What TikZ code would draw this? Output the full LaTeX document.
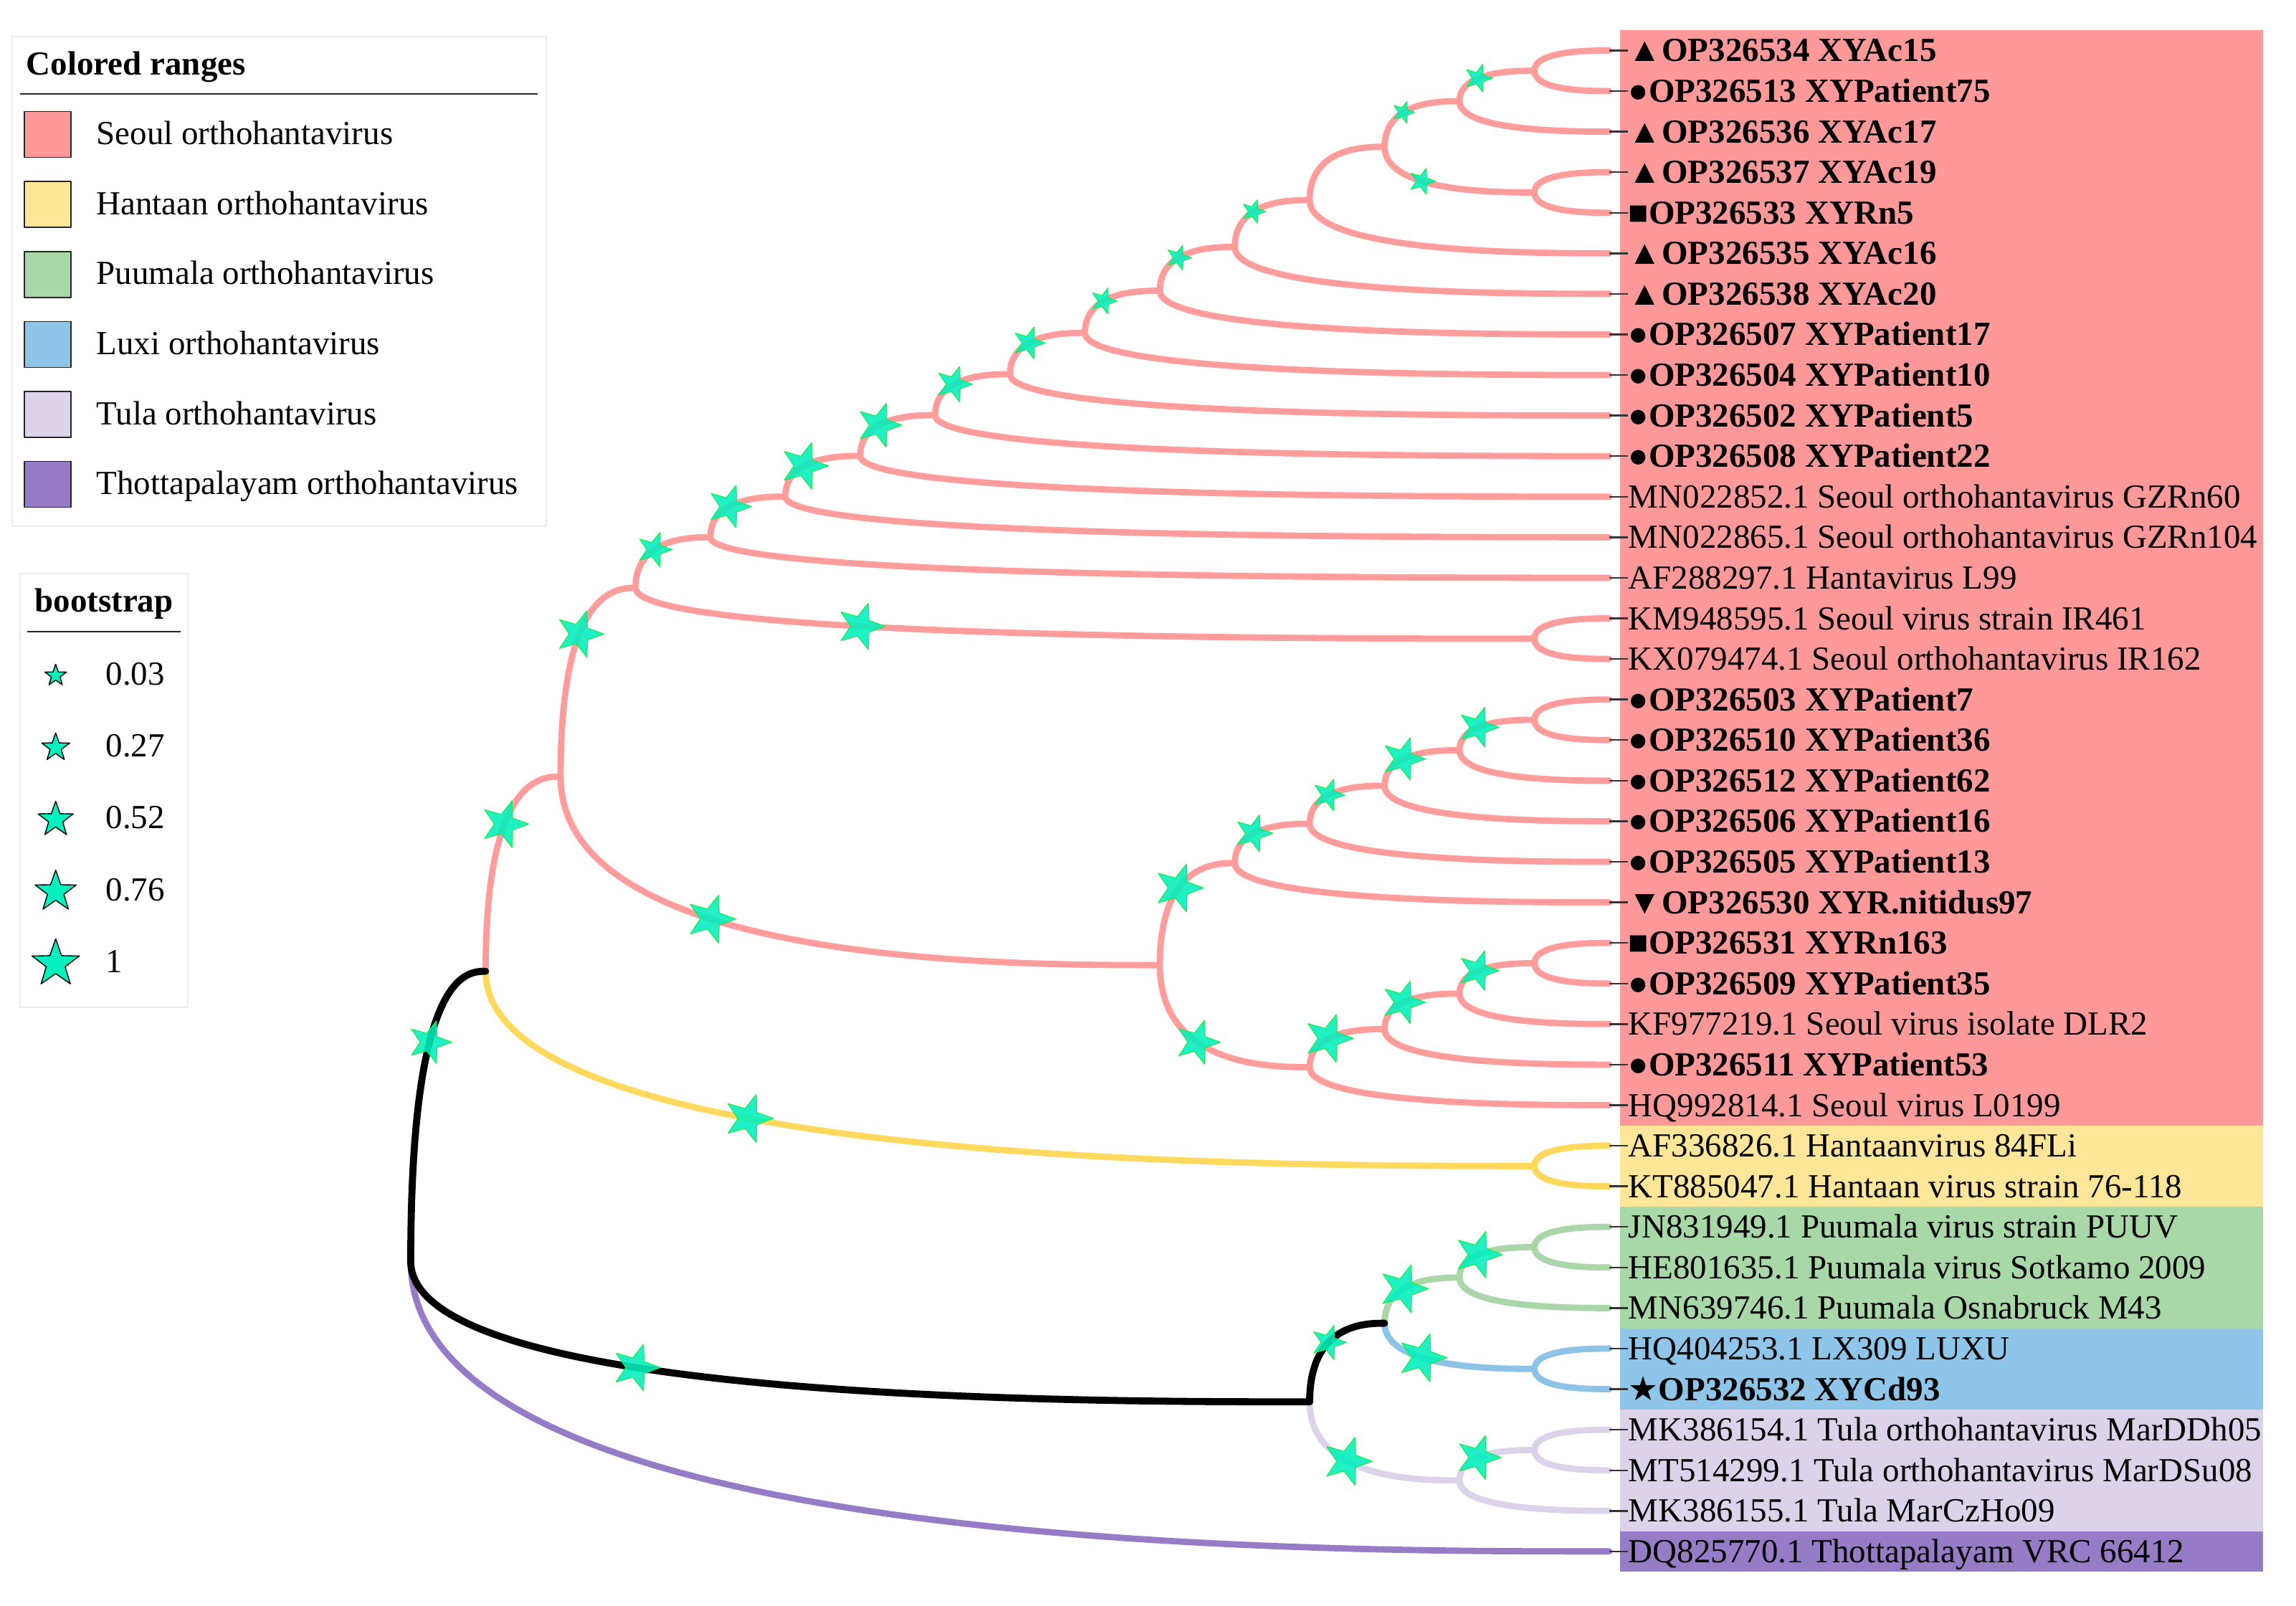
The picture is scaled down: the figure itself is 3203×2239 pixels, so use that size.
\documentclass[tikz,border=0pt]{standalone}
\usepackage{fontspec}
\setmainfont{Liberation Serif}
\newfontfamily\symfont{DejaVu Sans}
\usetikzlibrary{shapes.geometric,calc}
\definecolor{seoulR}{HTML}{FF9999}
\definecolor{hantR}{HTML}{FFE699}
\definecolor{puuR}{HTML}{A9D8A8}
\definecolor{luxR}{HTML}{8EC5E8}
\definecolor{tulaR}{HTML}{DCD3EB}
\definecolor{thoR}{HTML}{967CC6}
\definecolor{seoulB}{HTML}{FF9C9C}
\definecolor{hantB}{HTML}{FFD95E}
\definecolor{puuB}{HTML}{AAD6A9}
\definecolor{luxB}{HTML}{8DC3E6}
\definecolor{tulaB}{HTML}{DCD3EA}
\definecolor{thoB}{HTML}{967CC6}
\definecolor{bsfill}{HTML}{00F0BE}
\definecolor{bsedge}{HTML}{22E855}
\newcommand\mknode[3]{\coordinate (#1) at ({2245-104.5*#2},{70.4+56.58*#3});}
\newcommand\brn[3]{\draw[#1] (#2) .. controls (#2|-#3) and ($(#2|-#3)!0.75!(#3)$) .. (#3);}
\newcommand\bst[3]{\path (#1) .. controls (#1|-#2) and ($(#1|-#2)!0.75!(#2)$) .. (#2) node[bsstar, minimum size={#3*0.5pt}, pos=0.375] (s#1#2) {};}
\newcommand\lab[3]{\node[lab,font=\fontsize{11.75pt}{14pt}\selectfont#3] (lab#1) at (2271,{70.4+56.58*#1}) {#2}; \draw[leader] (t#1) -- (lab#1.west);}
\newcommand\rng[3]{\fill[#1] (2260,{70.4+56.58*#2-28.29}) rectangle (3157,{70.4+56.58*#3+28.29});}
\begin{document}
\begin{tikzpicture}[x=0.25pt,y=-0.25pt, line cap=round, line join=round,
  font=\fontsize{11.75pt}{14pt}\selectfont,
  br/.style={line width=2.2pt},
  seoul/.style={br,draw=seoulB},
  hant/.style={br,draw=hantB},
  puu/.style={br,draw=puuB},
  lux/.style={br,draw=luxB},
  tula/.style={br,draw=tulaB},
  tho/.style={br,draw=thoB},
  blk/.style={line width=2.45pt,draw=black},
  bsstar/.style={star, star points=5, star point ratio=2.4, rotate=-90, inner sep=0pt, fill=bsfill, fill opacity=0.88, draw=bsedge, line width=0.3pt},
  lgstar/.style={star, star points=5, star point ratio=2.5, inner sep=0pt, fill=bsfill, draw=black, line width=0.35pt},
  lab/.style={anchor=west, inner sep=0pt, text height=9.75pt, text depth=2pt},
  leader/.style={draw=black!80, line width=0.6pt, line cap=butt},
  swatch/.style={draw=black!85, line width=0.4pt, inner sep=0pt, minimum width=16.25pt, minimum height=16pt},
  lgtext/.style={anchor=base west, inner sep=0pt},
  lgbold/.style={font=\fontsize{11.75pt}{14pt}\selectfont\bfseries},
  lgbox/.style={draw=black!8, line width=0.5pt},
  lgrule/.style={draw=black!85, line width=0.5pt, line cap=butt}]
\fill[white] (0,0) rectangle (3203,2239);
\useasboundingbox (0,0) rectangle (3203,2239);

% colored ranges
\rng{seoulR}{0}{26}
\rng{hantR}{27}{28}
\rng{puuR}{29}{31}
\rng{luxR}{32}{33}
\rng{tulaR}{34}{36}
\rng{thoR}{37}{37}

% tips
\foreach \i in {0,...,37} {\coordinate (t\i) at (2245,{70.4+56.58*\i});}
% internal nodes: name, height, row
\mknode{A}{1}{0.5}
\mknode{B}{2}{1.25}
\mknode{C}{1}{3.5}
\mknode{D}{3}{2.375}
\mknode{E}{4}{3.6875}
\mknode{F}{5}{4.84375}
\mknode{G}{6}{5.921875}
\mknode{H}{7}{6.9609375}
\mknode{I}{8}{7.98046875}
\mknode{J}{9}{8.990234375}
\mknode{K}{10}{9.9951171875}
\mknode{L}{11}{10.99755859}
\mknode{M}{12}{11.9987793}
\mknode{Q14}{1}{14.5}
\mknode{N}{13}{13.24938965}
\mknode{P1}{1}{16.5}
\mknode{P2}{2}{17.25}
\mknode{P3}{3}{18.125}
\mknode{P4}{4}{19.0625}
\mknode{P5}{5}{20.03125}
\mknode{Q1}{1}{22.5}
\mknode{Q2}{2}{23.25}
\mknode{Q3}{3}{24.125}
\mknode{Q4}{4}{25.0625}
\mknode{P6}{6}{22.546875}
\mknode{S}{14}{17.8981}
\mknode{Hn}{1}{27.5}
\mknode{R1}{15}{22.69907}
\mknode{Pu1}{1}{29.5}
\mknode{Pu2}{2}{30.25}
\mknode{Lu}{1}{32.5}
\mknode{Y}{3}{31.375}
\mknode{T1}{1}{34.5}
\mknode{T2}{2}{35.25}
\mknode{X}{4}{33.3125}
\mknode{Root}{16}{29.849535}

% Seoul branches
\brn{seoul}{A}{t0} \brn{seoul}{A}{t1}
\brn{seoul}{B}{A} \brn{seoul}{B}{t2}
\brn{seoul}{C}{t3} \brn{seoul}{C}{t4}
\brn{seoul}{D}{B} \brn{seoul}{D}{C}
\brn{seoul}{E}{D} \brn{seoul}{E}{t5}
\brn{seoul}{F}{E} \brn{seoul}{F}{t6}
\brn{seoul}{G}{F} \brn{seoul}{G}{t7}
\brn{seoul}{H}{G} \brn{seoul}{H}{t8}
\brn{seoul}{I}{H} \brn{seoul}{I}{t9}
\brn{seoul}{J}{I} \brn{seoul}{J}{t10}
\brn{seoul}{K}{J} \brn{seoul}{K}{t11}
\brn{seoul}{L}{K} \brn{seoul}{L}{t12}
\brn{seoul}{M}{L} \brn{seoul}{M}{t13}
\brn{seoul}{Q14}{t14} \brn{seoul}{Q14}{t15}
\brn{seoul}{N}{M} \brn{seoul}{N}{Q14}
\brn{seoul}{P1}{t16} \brn{seoul}{P1}{t17}
\brn{seoul}{P2}{P1} \brn{seoul}{P2}{t18}
\brn{seoul}{P3}{P2} \brn{seoul}{P3}{t19}
\brn{seoul}{P4}{P3} \brn{seoul}{P4}{t20}
\brn{seoul}{P5}{P4} \brn{seoul}{P5}{t21}
\brn{seoul}{Q1}{t22} \brn{seoul}{Q1}{t23}
\brn{seoul}{Q2}{Q1} \brn{seoul}{Q2}{t24}
\brn{seoul}{Q3}{Q2} \brn{seoul}{Q3}{t25}
\brn{seoul}{Q4}{Q3} \brn{seoul}{Q4}{t26}
\brn{seoul}{P6}{P5} \brn{seoul}{P6}{Q4}
\brn{seoul}{S}{N} \brn{seoul}{S}{P6}
\brn{seoul}{R1}{S}
% Hantaan
\brn{hant}{R1}{Hn} \brn{hant}{Hn}{t27} \brn{hant}{Hn}{t28}
% Puumala
\brn{puu}{Y}{Pu2} \brn{puu}{Pu2}{Pu1} \brn{puu}{Pu2}{t31} \brn{puu}{Pu1}{t29} \brn{puu}{Pu1}{t30}
% Luxi
\brn{lux}{Y}{Lu} \brn{lux}{Lu}{t32} \brn{lux}{Lu}{t33}
% Tula
\brn{tula}{X}{T2} \brn{tula}{T2}{T1} \brn{tula}{T2}{t36} \brn{tula}{T1}{t34} \brn{tula}{T1}{t35}
% Thottapalayam
\brn{tho}{Root}{t37}
% backbone
\brn{blk}{Root}{R1} \brn{blk}{Root}{X} \brn{blk}{X}{Y}

% bootstrap stars
\bst{B}{A}{20} \bst{D}{B}{16} \bst{D}{C}{19} \bst{F}{E}{17} \bst{G}{F}{18}
\bst{H}{G}{19} \bst{I}{H}{23} \bst{J}{I}{26} \bst{K}{J}{32} \bst{L}{K}{34}
\bst{M}{L}{31} \bst{N}{M}{25} \bst{S}{N}{34} \bst{N}{Q14}{34} \bst{R1}{S}{34}
\bst{S}{P6}{35}
\bst{P6}{P5}{35} \bst{P5}{P4}{27} \bst{P4}{P3}{23} \bst{P3}{P2}{31} \bst{P2}{P1}{29}
\bst{P6}{Q4}{32} \bst{Q4}{Q3}{35} \bst{Q3}{Q2}{31} \bst{Q2}{Q1}{29}
\bst{Root}{R1}{31} \bst{R1}{Hn}{35} \bst{Root}{X}{34} \bst{X}{Y}{25}
\bst{Y}{Pu2}{35} \bst{Pu2}{Pu1}{34} \bst{Y}{Lu}{35} \bst{X}{T2}{35} \bst{T2}{T1}{32}

% labels
\lab{0}{▲OP326534 XYAc15}{\bfseries}
\lab{1}{●OP326513 XYPatient75}{\bfseries}
\lab{2}{▲OP326536 XYAc17}{\bfseries}
\lab{3}{▲OP326537 XYAc19}{\bfseries}
\lab{4}{■OP326533 XYRn5}{\bfseries}
\lab{5}{▲OP326535 XYAc16}{\bfseries}
\lab{6}{▲OP326538 XYAc20}{\bfseries}
\lab{7}{●OP326507 XYPatient17}{\bfseries}
\lab{8}{●OP326504 XYPatient10}{\bfseries}
\lab{9}{●OP326502 XYPatient5}{\bfseries}
\lab{10}{●OP326508 XYPatient22}{\bfseries}
\lab{11}{MN022852.1 Seoul orthohantavirus GZRn60}{}
\lab{12}{MN022865.1 Seoul orthohantavirus GZRn104}{}
\lab{13}{AF288297.1 Hantavirus L99}{}
\lab{14}{KM948595.1 Seoul virus strain IR461}{}
\lab{15}{KX079474.1 Seoul orthohantavirus IR162}{}
\lab{16}{●OP326503 XYPatient7}{\bfseries}
\lab{17}{●OP326510 XYPatient36}{\bfseries}
\lab{18}{●OP326512 XYPatient62}{\bfseries}
\lab{19}{●OP326506 XYPatient16}{\bfseries}
\lab{20}{●OP326505 XYPatient13}{\bfseries}
\lab{21}{▼OP326530 XYR.nitidus97}{\bfseries}
\lab{22}{■OP326531 XYRn163}{\bfseries}
\lab{23}{●OP326509 XYPatient35}{\bfseries}
\lab{24}{KF977219.1 Seoul virus isolate DLR2}{}
\lab{25}{●OP326511 XYPatient53}{\bfseries}
\lab{26}{HQ992814.1 Seoul virus L0199}{}
\lab{27}{AF336826.1 Hantaanvirus 84FLi}{}
\lab{28}{KT885047.1 Hantaan virus strain 76-118}{}
\lab{29}{JN831949.1 Puumala virus strain PUUV}{}
\lab{30}{HE801635.1 Puumala virus Sotkamo 2009}{}
\lab{31}{MN639746.1 Puumala Osnabruck M43}{}
\lab{32}{HQ404253.1 LX309 LUXU}{}
\lab{33}{{\symfont\bfseries ★}OP326532 XYCd93}{\bfseries}
\lab{34}{MK386154.1 Tula orthohantavirus MarDDh05}{}
\lab{35}{MT514299.1 Tula orthohantavirus MarDSu08}{}
\lab{36}{MK386155.1 Tula MarCzHo09}{}
\lab{37}{DQ825770.1 Thottapalayam VRC 66412}{}

% legend: colored ranges
\draw[lgbox] (17,51) rectangle (762,734);
\node[lgtext, lgbold] (lgtitle) at (36,104) {Colored ranges};
\draw[lgrule] (28,131) -- (750,131);
\foreach \k/\c/\t in {0/seoulR/Seoul orthohantavirus, 1/hantR/Hantaan orthohantavirus, 2/puuR/Puumala orthohantavirus, 3/luxR/Luxi orthohantavirus, 4/tulaR/Tula orthohantavirus, 5/thoR/Thottapalayam orthohantavirus} {
  \node[swatch, fill=\c] (sw\k) at (66.75,{187.6+97.6*\k}) {};
  \node[lgtext] (lt\k) at (133.7,{201.6+97.6*\k}) {\t};
}

% legend: bootstrap
\draw[lgbox] (28,800) rectangle (262,1405);
\node[anchor=base, inner sep=0pt, lgbold] (bstitle) at (145,853.75) {bootstrap};
\draw[lgrule] (38,881) -- (252,881);
\foreach \k/\r/\v in {0/15.8/0.03, 1/20.5/0.27, 2/25.8/0.52, 3/30.1/0.76, 4/34.7/1} {
  \node[lgstar, minimum size={\r*0.5pt}] (bs\k) at (77.7,{942.3+100.45*\k}) {};
  \node[lgtext] (bv\k) at (146.7,{955+100.45*\k}) {\v};
}
\end{tikzpicture}
\end{document}
